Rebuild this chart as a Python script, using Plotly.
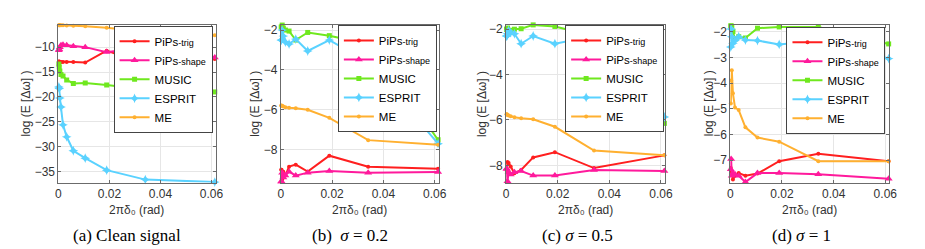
import plotly.graph_objects as go

# ---------------- data ----------------
x_rad = [0.00017, 0.00031, 0.00056, 0.001, 0.0018, 0.00324, 0.00584, 0.01051, 0.01892, 0.03406, 0.0613]

series_names = ["PiPs<span style='font-size:9px'>-trig</span>",
                "PiPs<span style='font-size:9px'>-shape</span>",
                "MUSIC", "ESPRIT", "ME"]

# (a) Clean signal
a_trig   = [-12.9, -12.9, -13.0, -13.0, -13.0, -13.0, -13.0, -13.1, -10.7, -13.5, -12.4]
a_shape  = [-10.6, -10.4, -10.0, -9.6, -9.5, -9.6, -9.8, -10.0, -11.0, -9.9, -12.1]
a_music  = [-13.4, -14.0, -14.8, -15.5, -15.8, -16.6, -17.3, -17.2, -17.6, -18.5, -19.0]
a_esprit = [-18.0, -18.3, -20.2, -22.0, -25.6, -28.0, -30.8, -32.3, -34.7, -36.6, -37.1]
a_me     = [-5.6, -5.6, -5.6, -5.6, -5.6, -5.65, -5.7, -5.8, -6.1, -6.9, -7.6]

# (b) sigma = 0.2
b_trig   = [-9.0, -9.0, -9.5, -9.1, -9.3, -8.85, -8.75, -9.1, -8.3, -8.85, -8.95]
b_shape  = [-9.6, -9.6, -9.15, -9.4, -9.3, -9.1, -9.3, -9.15, -9.07, -9.15, -9.12]
b_music  = [-1.85, -1.85, -1.75, -1.9, -2.0, -2.05, -2.5, -2.12, -2.28, -2.7, -7.5]
b_esprit = [-2.5, -2.5, -2.0, -2.3, -2.6, -2.7, -2.45, -3.05, -2.5, -3.6, -7.7]
b_me     = [-5.78, -5.79, -5.8, -5.83, -5.87, -5.9, -5.92, -6.0, -6.4, -7.52, -7.75]

# (c) sigma = 0.5
c_trig   = [-8.2, -8.2, -7.85, -7.9, -8.05, -8.35, -8.2, -7.65, -7.42, -8.12, -7.56]
c_shape  = [-8.15, -8.15, -8.7, -8.3, -8.4, -8.3, -8.25, -8.45, -8.45, -8.2, -8.25]
c_music  = [-2.0, -2.0, -1.95, -2.05, -2.05, -2.0, -1.98, -1.81, -1.88, -2.3, -6.15]
c_esprit = [-2.3, -2.3, -2.2, -2.05, -2.15, -2.2, -2.64, -2.3, -2.64, -2.3, -5.87]
c_me     = [-5.75, -5.75, -5.78, -5.8, -5.84, -5.88, -5.92, -5.97, -6.3, -7.35, -7.55]

# (d) sigma = 1
d_trig   = [-7.3, -7.5, -7.45, -7.75, -7.6, -7.5, -7.6, -7.52, -7.04, -6.75, -7.04]
d_shape  = [-7.35, -6.95, -7.6, -7.5, -7.55, -7.6, -7.85, -7.5, -7.5, -7.55, -7.72]
d_music  = [-1.78, -1.78, -1.8, -2.0, -2.3, -2.2, -2.25, -1.87, -1.82, -1.82, -2.48]
d_esprit = [-2.6, -1.9, -2.2, -2.45, -2.35, -2.2, -2.33, -2.35, -2.5, -2.35, -3.05]
d_me     = [-4.8, -3.9, -3.5, -4.4, -4.95, -5.05, -5.72, -6.12, -6.28, -7.04, -7.04]

captions = ["(a) Clean signal", "(b)  <i>σ</i> = 0.2", "(c) <i>σ</i> = 0.5", "(d) <i>σ</i> = 1"]
y_title = "log (E [Δω] )"
x_title = "2πδ₀ (rad)"
y_ticks = [[-35, -30, -25, -20, -15, -10], [-8, -6, -4, -2], [-8, -6, -4, -2], [-7, -6, -5, -4, -3, -2]]
y_ranges = [[-37.2, -5.53], [-9.65, -1.74], [-8.76, -1.81], [-7.87, -1.74]]
x_ticks = [0, 0.02, 0.04, 0.06]
x_ticktext = ["0", "0.02", "0.04", "0.06"]
x_range = [0, 0.0616]

panel_data = [
    [a_trig, a_shape, a_music, a_esprit, a_me],
    [b_trig, b_shape, b_music, b_esprit, b_me],
    [c_trig, c_shape, c_music, c_esprit, c_me],
    [d_trig, d_shape, d_music, d_esprit, d_me],
]

# ---------------- style ----------------
W, H = 925, 249
colors = ["#ff1f1f", "#ff1a9c", "#6fe81e", "#5ad2ff", "#ffb030"]
symbols = ["circle", "triangle-up", "square", "star-diamond", "circle"]
msizes = [4, 7, 5, 7, 4]
px_x = [(48, 207), (273, 433), (501, 662), (728, 889)]
px_top, px_bot = 15, 174
legend_px = [(204, 16), (431, 15), (661, 15), (885, 17)]
ytitle_px = [15, 247, 476, 706]
caption_px = [117, 343, 573, 800]
FONT = "Liberation Sans, Arial, sans-serif"
SERIF = "Liberation Serif, Times New Roman, serif"

fig = go.Figure()
for i, vals in enumerate(panel_data):
    sfx = "" if i == 0 else str(i + 1)
    for j, yv in enumerate(vals):
        fig.add_trace(go.Scatter(
            x=x_rad, y=yv, mode="lines+markers", name=series_names[j],
            line=dict(color=colors[j], width=2),
            marker=dict(symbol=symbols[j], size=msizes[j], color=colors[j]),
            xaxis="x" + sfx, yaxis="y" + sfx, legend="legend" + sfx,
            cliponaxis=False, showlegend=True,
        ))

layout = dict(
    width=W, height=H, margin=dict(l=0, r=0, t=0, b=0),
    paper_bgcolor="white", plot_bgcolor="white",
    font=dict(family=FONT, size=12, color="#333"),
)
annotations = []
for i in range(4):
    sfx = "" if i == 0 else str(i + 1)
    x0, x1 = px_x[i]
    dom_x = [x0 / W, x1 / W]
    dom_y = [1 - px_bot / H, 1 - px_top / H]
    axis_common = dict(showline=True, mirror="ticks", linecolor="#6b6b6b", linewidth=1,
                       showgrid=True, gridcolor="#e6e6e6", gridwidth=1, zeroline=False,
                       ticks="inside", ticklen=3, tickcolor="#6b6b6b",
                       tickfont=dict(family=FONT, size=12, color="#333"))
    layout["xaxis" + sfx] = dict(domain=dom_x, range=x_range, tickvals=x_ticks,
                                 ticktext=x_ticktext, anchor="y" + sfx, **axis_common)
    layout["yaxis" + sfx] = dict(domain=dom_y, range=y_ranges[i], tickvals=y_ticks[i],
                                 anchor="x" + sfx, **axis_common)
    lx, ly = legend_px[i]
    layout["legend" + sfx] = dict(
        x=lx / W, y=1 - ly / H, xanchor="right", yanchor="top", xref="paper", yref="paper",
        bgcolor="white", bordercolor="#444", borderwidth=1,
        font=dict(family=FONT, size=11.5, color="black"), itemwidth=30, tracegroupgap=0,
    )
    annotations.append(dict(text=y_title, xref="paper", yref="paper",
                            x=ytitle_px[i] / W, y=1 - ((px_top + px_bot) / 2) / H,
                            textangle=-90, showarrow=False, xanchor="center", yanchor="middle",
                            font=dict(family=FONT, size=12, color="#333")))
    annotations.append(dict(text=x_title, xref="paper", yref="paper",
                            x=((x0 + x1) / 2) / W, y=1 - 202 / H, showarrow=False,
                            xanchor="center", yanchor="middle",
                            font=dict(family=FONT, size=12, color="#333")))
    annotations.append(dict(text=captions[i], xref="paper", yref="paper",
                            x=caption_px[i] / W, y=1 - 227 / H, showarrow=False,
                            xanchor="center", yanchor="middle",
                            font=dict(family=SERIF, size=17, color="black")))
layout["annotations"] = annotations
fig.update_layout(**layout)

fig.write_html("out.html")
